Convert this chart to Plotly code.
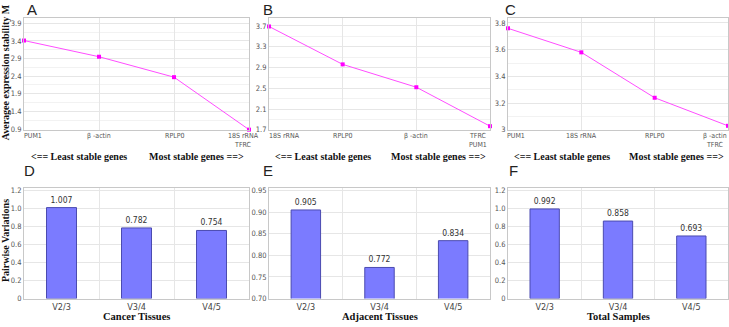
import plotly.graph_objects as go

W, H = 729, 327

# ---- data ----
genes_a = ["PUM1", "β -actin", "RPLP0", "18S rRNA<br>TFRC"]
m_a = [3.41, 2.95, 2.37, 0.88]
genes_b = ["18S rRNA", "RPLP0", "β -actin", "TFRC<br>PUM1"]
m_b = [3.69, 2.96, 2.52, 1.77]
genes_c = ["PUM1", "18S rRNA", "RPLP0", "β -actin<br>TFRC"]
m_c = [3.76, 3.58, 3.24, 3.03]

pairs = ["V2/3", "V3/4", "V4/5"]
v_cancer = [1.007, 0.782, 0.754]
v_adjacent = [0.905, 0.772, 0.834]
v_total = [0.992, 0.858, 0.693]

ticks_a = [0.9, 1.4, 1.9, 2.4, 2.9, 3.4, 3.9]
ticks_b = [1.7, 2.1, 2.5, 2.9, 3.3, 3.7]
ticks_c = [3.0, 3.2, 3.4, 3.6, 3.8]
ticktext_c = ["3", "3.2", "3.4", "3.6", "3.8"]
ticks_df = [0, 0.2, 0.4, 0.6, 0.8, 1.0, 1.2]
ticktext_df = ["0", "0.2", "0.4", "0.6", "0.8", "1.0", "1.2"]
ticks_e = [0.70, 0.75, 0.80, 0.85, 0.90, 0.95]
ticktext_e = ["0.70", "0.75", "0.80", "0.85", "0.90", "0.95"]

panel_letters = ["A", "B", "C", "D", "E", "F"]
bottom_titles = ["Cancer Tissues", "Adjacent Tissues", "Total Samples"]

# ---- layout geometry (pixels -> paper) ----
def px(x):
    return x / W

def py(y):
    return 1 - y / H

cols = [(24, 249), (269, 490), (508, 728)]
top_row = (15, 130)
bot_row = (190, 303)

LINE_C = "#ff4dff"
MARK_C = "#ff00ff"
BAR_C = "#7b7bff"
BAR_L = "#4b4bb0"
GRID = "#e6e6e6"
MINOR = "#f2f2f2"
AXL = "#c8c8c8"
SANS = "Liberation Sans, Arial, sans-serif"
NARROW = "Liberation Sans Narrow, DejaVu Sans Condensed, Arial Narrow, Liberation Sans, sans-serif"
TICKF = dict(family=NARROW, size=7.5, color="#555")
CATF = dict(family=NARROW, size=7, color="#555")
SERIF_B = dict(family="Liberation Serif, Times New Roman, serif", size=10, color="#111")

fig = go.Figure()

line_sets = [(genes_a, m_a), (genes_b, m_b), (genes_c, m_c)]
for i, (g, m) in enumerate(line_sets):
    fig.add_trace(go.Scatter(
        x=g, y=m, mode="lines+markers",
        line=dict(color=LINE_C, width=1),
        marker=dict(symbol="square", size=4, color=MARK_C),
        cliponaxis=False, showlegend=False,
        xaxis=f"x{i+1 if i else ''}", yaxis=f"y{i+1 if i else ''}",
    ))

bar_sets = [v_cancer, v_adjacent, v_total]
for i, v in enumerate(bar_sets):
    fig.add_trace(go.Bar(
        x=pairs, y=v, width=0.4,
        marker=dict(color=BAR_C, line=dict(color=BAR_L, width=1)),
        text=[f"{val:.3f}" for val in v], textposition="outside",
        textfont=dict(family=NARROW, size=8.5, color="#333"),
        cliponaxis=False, showlegend=False,
        xaxis=f"x{i+4}", yaxis=f"y{i+4}",
    ))

layout = dict(
    width=W, height=H,
    margin=dict(l=0, r=0, t=0, b=0),
    paper_bgcolor="white", plot_bgcolor="white",
)

ranges_top = [
    ([0.875, 4.06], ticks_a, [str(t) for t in ticks_a], 0.25, 0.9),
    ([1.7, 3.86], ticks_b, [str(t) for t in ticks_b], 0.2, 1.7),
    ([3.0, 3.84], ticks_c, ticktext_c, 0.1, 3.0),
]
for i in range(3):
    k = "" if i == 0 else str(i + 1)
    rng, tv, tt, mdt, m0 = ranges_top[i]
    layout[f"xaxis{k}"] = dict(
        domain=[px(cols[i][0]), px(cols[i][1])], anchor=f"y{k}",
        type="category", range=[0, 3],
        showgrid=True, gridcolor=GRID, gridwidth=1,
        showline=True, linecolor=AXL, mirror=True, ticks="",
        showticklabels=False, zeroline=False,
    )
    layout[f"yaxis{k}"] = dict(
        domain=[py(top_row[1]), py(top_row[0])], anchor=f"x{k}",
        range=rng, tickvals=tv, ticktext=tt,
        showgrid=True, gridcolor=GRID,
        minor=dict(dtick=mdt, tick0=m0, showgrid=True, gridcolor=MINOR),
        showline=True, linecolor=AXL, mirror=True, ticks="",
        tickfont=TICKF, zeroline=False,
    )

ranges_bot = [
    ([0, 1.22], ticks_df, ticktext_df),
    ([0.70, 0.955], ticks_e, ticktext_e),
    ([0, 1.22], ticks_df, ticktext_df),
]
for i in range(3):
    k = str(i + 4)
    rng, tv, tt = ranges_bot[i]
    layout[f"xaxis{k}"] = dict(
        domain=[px(cols[i][0]), px(cols[i][1])], anchor=f"y{k}",
        type="category", range=[-0.5, 2.5], tickson="boundaries",
        showgrid=True, gridcolor=GRID,
        showline=True, linecolor=AXL, mirror=True, ticks="",
        tickfont=dict(family=NARROW, size=9, color="#444"),
        zeroline=False,
    )
    layout[f"yaxis{k}"] = dict(
        domain=[py(bot_row[1]), py(bot_row[0])], anchor=f"x{k}",
        range=rng, tickvals=tv, ticktext=tt,
        showgrid=True, gridcolor=GRID,
        showline=True, linecolor=AXL, mirror=True, ticks="",
        tickfont=TICKF, zeroline=False,
    )

fig.update_layout(**layout)

ann = []
# category labels of the line panels, placed on each category through the axis
label_anchor = [
    ["left", "center", "center", "center"],
    ["left", "center", "center", "right"],
    ["left", "center", "center", "right"],
]
label_shift = [
    [-1, 0, 0, -6],
    [-1, 0, 0, -2],
    [-2, 0, 0, 0],
]
for i, (g, _) in enumerate(line_sets):
    k = "" if i == 0 else str(i + 1)
    for j, name in enumerate(g):
        ann.append(dict(text=name, x=j, y=py(131), xref=f"x{k}", yref="paper",
                        xanchor=label_anchor[i][j], yanchor="top", showarrow=False,
                        xshift=label_shift[i][j], borderpad=0, font=CATF))

# panel letters
letter_pos = [(25, 7), (261, 7), (503, 7), (22, 172), (261, 172), (507, 172)]
for L, (x, y) in zip(panel_letters, letter_pos):
    ann.append(dict(text=L, x=px(x), y=py(y), xref="paper", yref="paper",
                    xanchor="left", yanchor="middle", showarrow=False,
                    font=dict(family=SANS, size=15, color="#222")))

# y titles
ann.append(dict(text="<b>Averagee expression stability M</b>", x=px(5), y=py(71),
                xref="paper", yref="paper", textangle=-90, showarrow=False,
                xanchor="center", yanchor="middle", font=SERIF_B))
ann.append(dict(text="<b>Pairwise Variations</b>", x=px(5), y=py(244),
                xref="paper", yref="paper", textangle=-90, showarrow=False,
                xanchor="center", yanchor="middle", font=SERIF_B))

# stability direction labels
for i in range(3):
    k = "" if i == 0 else str(i + 1)
    ann.append(dict(text="<b>&lt;== Least stable genes</b>", x=0.245, y=py(157.5),
                    xref=f"x{k} domain", yref="paper", showarrow=False,
                    xanchor="center", yanchor="middle", borderpad=0, font=SERIF_B))
    ann.append(dict(text="<b>Most stable genes ==&gt;</b>", x=0.765, y=py(157.5),
                    xref=f"x{k} domain", yref="paper", showarrow=False,
                    xanchor="center", yanchor="middle", borderpad=0, font=SERIF_B))

# bottom titles
for i, t in enumerate(bottom_titles):
    ann.append(dict(text=f"<b>{t}</b>", x=0.5, y=py(321),
                    xref=f"x{i+4} domain", yref="paper", showarrow=False,
                    xanchor="center", yanchor="middle",
                    font=dict(family="Liberation Serif, Times New Roman, serif", size=10.5, color="#111")))

fig.update_layout(annotations=ann)

fig.write_html("out.html")
